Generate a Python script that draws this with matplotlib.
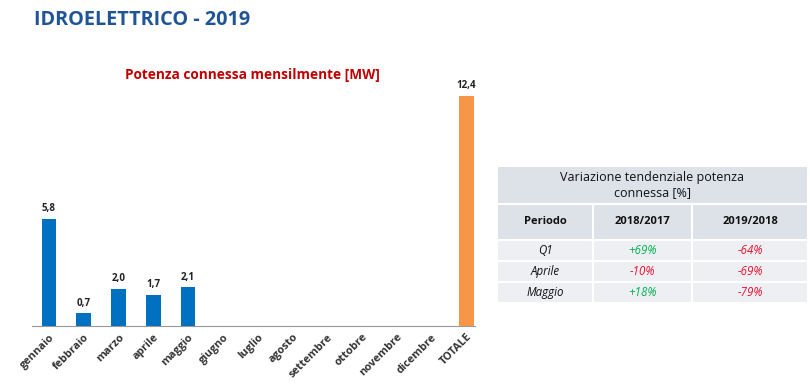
import numpy as np
import matplotlib.pyplot as plt
from matplotlib.patches import Rectangle

plt.rcParams['font.family'] = ['Open Sans', 'DejaVu Sans']

months = ["gennaio", "febbraio", "marzo", "aprile", "maggio", "giugno", "luglio",
          "agosto", "settembre", "ottobre", "novembre", "dicembre", "TOTALE"]
values = [5.8, 0.7, 2.0, 1.7, 2.1, np.nan, np.nan, np.nan, np.nan, np.nan, np.nan, np.nan, 12.4]

table_title = "Variazione tendenziale potenza\nconnessa [%]"
col_headers = ["Periodo", "2018/2017", "2019/2018"]
periods = ["Q1", "Aprile", "Maggio"]
var_1817 = ["+69%", "-10%", "+18%"]
var_1918 = ["-64%", "-69%", "-79%"]

BLUE = "#0070C0"
ORANGE = "#F79646"
GREEN = "#00B050"
RED = "#E8102E"

fig = plt.figure(figsize=(8.1, 3.86), dpi=100)
fig.patch.set_facecolor("white")

ax = fig.add_axes([0.0395, 0.155, 0.547, 0.673])
x = np.arange(len(months))
colors = [ORANGE if m == "TOTALE" else BLUE for m in months]
ax.bar(x, values, width=0.43, color=colors)
for xi, v in zip(x, values):
    if not np.isnan(v):
        ax.text(xi, v + 0.25, f"{v:.1f}".replace(".", ","), ha="center", va="bottom",
                fontsize=7, fontweight="bold", color="#222222")

ax.set_xlim(-0.49, 12.26)
ax.set_ylim(0, 14)
ax.set_yticks([])
ax.set_xticks(x)
ax.set_xticklabels(months, rotation=45, ha="right", rotation_mode="anchor",
                   fontsize=7.8, fontweight="bold", color="#333333")
ax.tick_params(axis="x", length=0, pad=4)
for s in ["top", "right", "left"]:
    ax.spines[s].set_visible(False)
ax.spines["bottom"].set_color("#999999")
ax.spines["bottom"].set_linewidth(0.8)

fig.text(252 / 810, 1 - 75 / 386, "Potenza connessa mensilmente [MW]", ha="center",
         va="center", fontsize=9.8, fontweight="bold", color="#C00000")
fig.text(34 / 810, 1 - 20 / 386, "IDROELETTRICO - 2019", ha="left", va="center",
         fontsize=14.3, fontweight="bold", color="#1F5596")

# table drawn on an overlay in pixel coordinates
tx = fig.add_axes([0, 0, 1, 1], facecolor="none")
tx.set_xlim(0, 810)
tx.set_ylim(386, 0)
tx.axis("off")

HEAD_BG = "#DDE1E8"
ROW_BG = "#EDEFF3"
cols = [497, 593, 692, 808]
tx.add_patch(Rectangle((497, 166), 311, 38, facecolor=HEAD_BG, edgecolor="white", lw=1.5))
tx.text(652, 185, table_title, ha="center", va="center", fontsize=9, color="#111111",
        linespacing=1.3)
for i, h in enumerate(col_headers):
    tx.add_patch(Rectangle((cols[i], 204), cols[i + 1] - cols[i], 36, facecolor=HEAD_BG,
                           edgecolor="white", lw=1.5))
    tx.text((cols[i] + cols[i + 1]) / 2, 222, h, ha="center", va="center", fontsize=8,
            fontweight="bold", color="#111111")

row_tops = [240, 261, 282]
for r, (p, a, b) in enumerate(zip(periods, var_1817, var_1918)):
    y0 = row_tops[r]
    for i in range(3):
        tx.add_patch(Rectangle((cols[i], y0), cols[i + 1] - cols[i], 21, facecolor=ROW_BG,
                               edgecolor="white", lw=1.5))
    yc = y0 + 10.5
    tx.text((cols[0] + cols[1]) / 2, yc, p, ha="center", va="center", fontsize=8.3,
            style="italic", color="#111111")
    tx.text((cols[1] + cols[2]) / 2, yc, a, ha="center", va="center", fontsize=8.3,
            style="italic", color=GREEN if a.startswith("+") else RED)
    tx.text((cols[2] + cols[3]) / 2, yc, b, ha="center", va="center", fontsize=8.3,
            style="italic", color=GREEN if b.startswith("+") else RED)

fig.savefig("out.png", dpi=100)
